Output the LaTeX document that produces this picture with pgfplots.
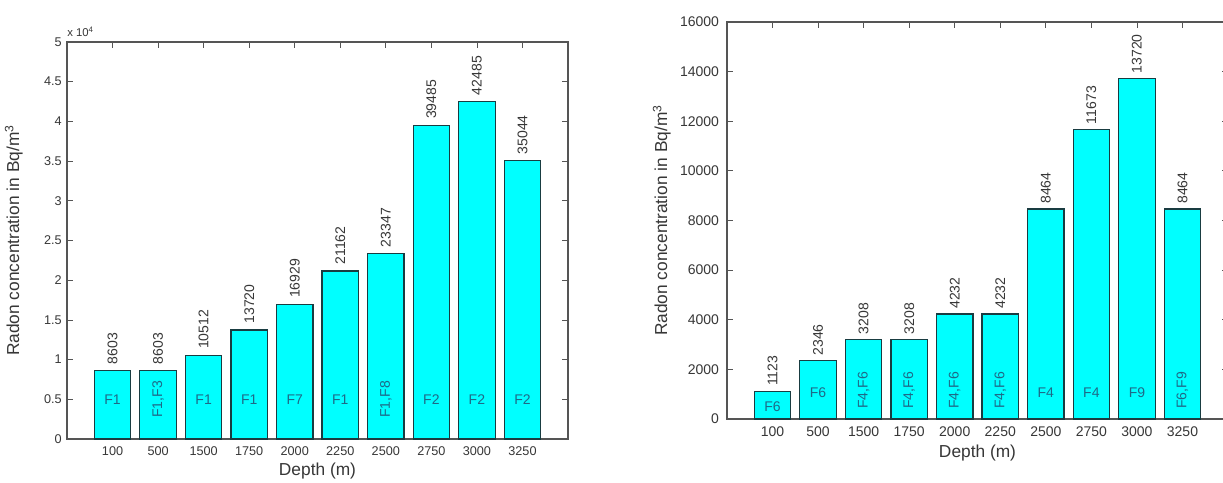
\documentclass[border=0pt]{standalone}
\usepackage{pgfplots}
\pgfplotsset{compat=1.18}
\usepackage{pgfplotstable}
\usepackage{fontspec}
\setmainfont{Liberation Sans}
\definecolor{barcyan}{RGB}{0,255,255}
\definecolor{baredge}{RGB}{25,60,65}
\definecolor{flab}{RGB}{30,105,135}
\definecolor{vlab}{RGB}{55,55,55}
\definecolor{axgray}{RGB}{85,85,85}

\pgfplotstableread{
x y lab
1 8603 8603
2 8603 8603
3 10512 10512
4 13720 13720
5 16929 16929
6 21162 21162
7 23347 23347
8 39485 39485
9 42485 42485
10 35044 35044
}\leftdata
\pgfplotstableread{
x y lab
1 5000 F1
3 5000 F1
4 5000 F1
5 5000 F7
6 5000 F1
8 5000 F2
9 5000 F2
10 5000 F2
}\leftflat
\pgfplotstableread{
x y lab
2 5000 F1,F3
7 5000 F1,F8
}\leftrot
\pgfplotstableread{
x y lab
1 1123 1123
2 2346 2346
3 3208 3208
4 3208 3208
5 4232 4232
6 4232 4232
7 8464 8464
8 11673 11673
9 13720 13720
10 8464 8464
}\rightdata
\pgfplotstableread{
x y lab
1 500 F6
2 1050 F6
7 1050 F4
8 1050 F4
9 1050 F9
}\rightflat
\pgfplotstableread{
x y lab
3 1150 F4,F6
4 1150 F4,F6
5 1150 F4,F6
6 1150 F4,F6
10 1150 F6,F9
}\rightrot

\pgfplotsset{
  radon/.style={
    scale only axis,
    width=375.75pt, height=297.75pt,
    xmin=0, xmax=11,
    ymin=0,
    xtick={1,...,10},
    xticklabels={100,500,1500,1750,2000,2250,2500,2750,3000,3250},
    tick align=inside,
    xtick pos=both, ytick pos=both,
    major tick length=4.5pt,
    axis line style={axgray, line width=0.9pt},
    every tick/.style={axgray, line width=0.6pt},
    tick label style={font=\fontsize{9.5}{11}\selectfont, text=vlab},
    /pgf/number format/assume math mode=true,
    /pgf/number format/1000 sep={},
    scaled y ticks=false,
    xticklabel style={yshift=-2pt},
    label style={font=\fontsize{13}{15}\selectfont, text=vlab},
    xlabel={Depth (m)},
    ylabel={Radon concentration in Bq/m\textsuperscript{3}},
    bar width=0.8,
    clip=false,
  },
  valbars/.style={
    ybar, fill=barcyan, draw=baredge, line width=0.9pt,
    nodes near coords, point meta=explicit symbolic,
    every node near coord/.append style={rotate=90, anchor=west,
      font=\fontsize{10.5}{12}\selectfont, text=vlab, inner sep=1.5pt},
  },
  flatlab/.style={
    draw=none, mark=none,
    nodes near coords, point meta=explicit symbolic,
    every node near coord/.append style={anchor=center,
      font=\fontsize{10.5}{12}\selectfont, text=flab},
  },
  rotlab/.style={
    draw=none, mark=none,
    nodes near coords, point meta=explicit symbolic,
    every node near coord/.append style={anchor=center, rotate=90,
      font=\fontsize{10.5}{12}\selectfont, text=flab},
  },
}

\begin{document}
\begin{tikzpicture}
\clip (0,0) rectangle (917.25pt,361.5pt);
\fill[white] (0,0) rectangle (917.25pt,361.5pt);

\begin{axis}[radon,
  at={(50.25pt,32.25pt)}, anchor=south west,
  ymax=50000,
  ytick={0,5000,10000,15000,20000,25000,30000,35000,40000,45000,50000},
  yticklabels={0,0.5,1,1.5,2,2.5,3,3.5,4,4.5,5},
  yticklabel style={xshift=-0.5pt},
  xlabel style={at={(axis description cs:0.5,0)}, anchor=center, yshift=-24pt},
  ylabel style={at={(axis description cs:-0.106,0.5)}, anchor=center, rotate=0},
]
\addplot[valbars, every node near coord/.append style={xshift=3pt}] table[x=x, y=y, meta=lab] {\leftdata};
\addplot[flatlab] table[x=x, y=y, meta=lab] {\leftflat};
\addplot[rotlab] table[x=x, y=y, meta=lab] {\leftrot};
\node[anchor=south west, font=\fontsize{8.5}{9}\selectfont, text=vlab, inner sep=0pt] at (rel axis cs:0,1) [yshift=4pt] {x 10\textsuperscript{4}};
\end{axis}

\begin{axis}[radon,
  at={(545.25pt,47.25pt)}, anchor=south west,
  ymax=16000,
  ytick={0,2000,4000,6000,8000,10000,12000,14000,16000},
  tick label style={font=\fontsize{10.5}{12}\selectfont},
  yticklabel style={xshift=-2.5pt},
  xlabel style={at={(axis description cs:0.5,0)}, anchor=center, yshift=-25.5pt},
  ylabel style={at={(axis description cs:-0.13,0.5)}, anchor=center, rotate=0},
]
\addplot[valbars, every node near coord/.append style={xshift=2pt}] table[x=x, y=y, meta=lab] {\rightdata};
\addplot[flatlab] table[x=x, y=y, meta=lab] {\rightflat};
\addplot[rotlab] table[x=x, y=y, meta=lab] {\rightrot};
\end{axis}
\end{tikzpicture}
\end{document}
